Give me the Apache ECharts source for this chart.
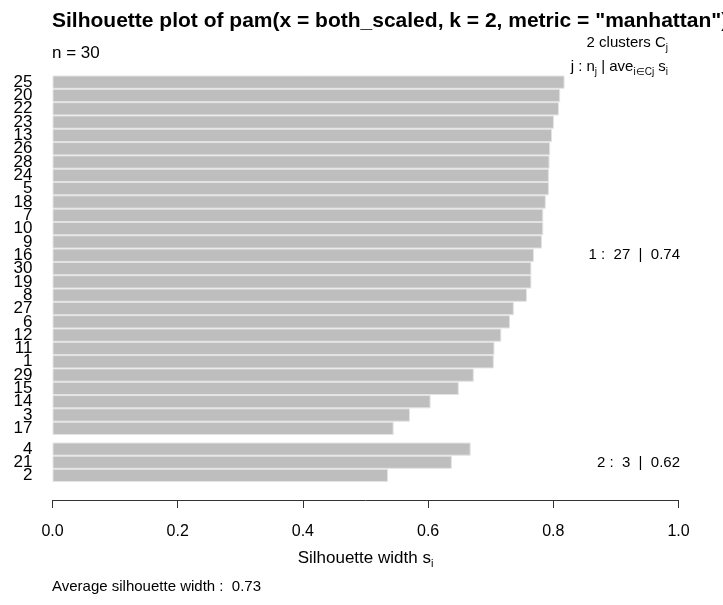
<!DOCTYPE html>
<html>
<head>
<meta charset="utf-8">
<script src="https://cdn.jsdelivr.net/npm/echarts@6/dist/echarts.min.js"></script>
<style>
  html, body { margin: 0; padding: 0; background: #fff; }
  #chart { width: 723px; height: 605px; }
</style>
</head>
<body>
<div id="chart"></div>
<script>
// cluster 1 (27 obs), sorted by silhouette width
let cluster1Ids = ['25', '20', '22', '23', '13', '26', '28', '24', '5', '18', '7', '10', '9', '16', '30',
  '19', '8', '27', '6', '12', '11', '1', '29', '15', '14', '3', '17']
let cluster1Sil = [0.818, 0.811, 0.809, 0.801, 0.798, 0.795, 0.794, 0.793, 0.793, 0.788, 0.784, 0.784, 0.782, 0.769, 0.765,
  0.765, 0.758, 0.737, 0.731, 0.717, 0.706, 0.705, 0.673, 0.649, 0.604, 0.571, 0.545]
// cluster 2 (3 obs)
let cluster2Ids = ['4', '21', '2']
let cluster2Sil = [0.668, 0.638, 0.536]

let FONT = "'Liberation Sans', Arial, sans-serif"
let barColor = '#BEBEBE'

let myChart = echarts.init(document.getElementById('chart'))

function yAxisFor(ids, idx) {
  return {
    type: 'category',
    gridIndex: idx,
    inverse: true,
    data: ids,
    axisLine: { show: false },
    axisTick: { show: false },
    axisLabel: {
      margin: 20,
      fontSize: 17,
      fontFamily: FONT,
      color: '#000',
      interval: 0
    }
  }
}

function barSeries(data, idx) {
  return {
    type: 'bar',
    xAxisIndex: idx,
    yAxisIndex: idx,
    data: data,
    barCategoryGap: '0%',
    itemStyle: {
      color: barColor,
      borderColor: '#E4E4E4',
      borderWidth: 1
    },
    silent: true,
    animation: false
  }
}

let subStyle = { fontSize: 10, lineHeight: 10, verticalAlign: 'bottom', fontFamily: FONT, fill: '#000' }
let mainStyle = { fontSize: 15, lineHeight: 21, fontFamily: FONT, fill: '#000' }

myChart.setOption({
  animation: false,
  grid: [
    { left: 52.5, width: 626, top: 75.5, height: 359.5 },
    { left: 52.5, width: 626, top: 442.5, height: 39.5 }
  ],
  xAxis: [
    { gridIndex: 0, type: 'value', min: 0, max: 1, show: false },
    {
      gridIndex: 1,
      type: 'value',
      min: 0,
      max: 1,
      interval: 0.2,
      offset: 18,
      axisLine: { show: true, lineStyle: { color: '#333', width: 1 } },
      axisTick: { show: true, length: 8, lineStyle: { color: '#333' } },
      splitLine: { show: false },
      axisLabel: {
        margin: 24,
        fontSize: 16,
        fontFamily: FONT,
        color: '#000',
        formatter: (v) => v.toFixed(1)
      },
      name: '{m|Silhouette width s}{s|i}',
      nameLocation: 'middle',
      nameGap: 47,
      nameTextStyle: {
        rich: {
          m: { fontSize: 17, lineHeight: 22, fontFamily: FONT, color: '#000' },
          s: { fontSize: 11, lineHeight: 11, verticalAlign: 'bottom', fontFamily: FONT, color: '#000' }
        }
      }
    }
  ],
  yAxis: [yAxisFor(cluster1Ids, 0), yAxisFor(cluster2Ids, 1)],
  series: [barSeries(cluster1Sil, 0), barSeries(cluster2Sil, 1)],
  graphic: [
    {
      type: 'text', x: 52, y: 21,
      style: {
        text: 'Silhouette plot of pam(x = both_scaled, k = 2, metric = "manhattan")',
        font: 'bold 21px ' + FONT, fill: '#000', textVerticalAlign: 'middle'
      }
    },
    {
      type: 'text', x: 52, y: 53,
      style: { text: 'n = 30', font: '17px ' + FONT, fill: '#000', textVerticalAlign: 'middle' }
    },
    {
      type: 'text', x: 668, y: 43,
      style: {
        text: '{m|2 clusters C}{s|j}',
        rich: { m: mainStyle, s: subStyle },
        textAlign: 'right', textVerticalAlign: 'middle'
      }
    },
    {
      type: 'text', x: 668, y: 67,
      style: {
        text: '{m|j : n}{s|j}{m| | ave}{s|i\u2208Cj}{m| s}{s|i}',
        rich: { m: mainStyle, s: subStyle },
        textAlign: 'right', textVerticalAlign: 'middle'
      }
    },
    {
      type: 'text', x: 680, y: 255,
      style: { text: '1 :  27  |  0.74', font: '15px ' + FONT, fill: '#000', textAlign: 'right', textVerticalAlign: 'middle' }
    },
    {
      type: 'text', x: 680, y: 463,
      style: { text: '2 :  3  |  0.62', font: '15px ' + FONT, fill: '#000', textAlign: 'right', textVerticalAlign: 'middle' }
    },
    {
      type: 'text', x: 52, y: 587,
      style: { text: 'Average silhouette width :  0.73', font: '15px ' + FONT, fill: '#000', textVerticalAlign: 'middle' }
    }
  ]
})
</script>
</body>
</html>
